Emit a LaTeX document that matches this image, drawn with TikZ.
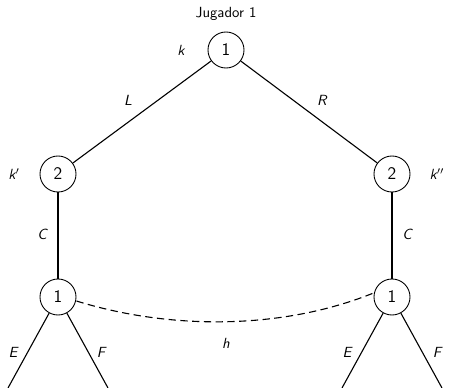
\documentclass[tikz,border=0pt]{standalone}
\usetikzlibrary{calc}
\begin{document}
\begin{tikzpicture}[x=0.68pt,y=-0.68pt,font=\sffamily,
  dec/.style={circle,draw,line width=0.6pt,inner sep=0pt,minimum size=24.5pt,font=\sffamily\large},
  edge/.style={line width=0.75pt},
  lab/.style={font=\sffamily\itshape}]
\useasboundingbox (0,0) rectangle (449,388);
\node[dec] (r) at (226,50) {1};
\node (jug) at (226,14) {Jugador 1};
\node[lab] (k) at (181,50) {k};
\node[dec] (a) at (58,174) {2};
\node[dec] (b) at (392,174) {2};
\node[lab] (ka) at (14,174) {k$'$};
\node[lab] (kb) at (437,174) {k$''$};
\node[dec] (c) at (58,297) {1};
\node[dec] (d) at (392,297) {1};
\coordinate (c1) at (8,388);
\coordinate (c2) at (108,388);
\coordinate (d1) at (342,388);
\coordinate (d2) at (442,388);
\draw[edge] (r) -- (a);
\draw[edge] (r) -- (b);
\draw[edge] (a) -- (c);
\draw[edge] (b) -- (d);
\node[lab] (lL) at (128,100) {L};
\node[lab] (lR) at (322,100) {R};
\node[lab] (lC1) at (42,234) {C};
\node[lab] (lC2) at (407,234) {C};
\draw[edge] (c) -- (c1);
\draw[edge] (c) -- (c2);
\draw[edge] (d) -- (d1);
\draw[edge] (d) -- (d2);
\node[lab] (e1) at (13,352) {E};
\node[lab] (f1) at (101,352) {F};
\node[lab] (e2) at (347,352) {E};
\node[lab] (f2) at (437,352) {F};
\draw[edge,dashed,dash pattern=on 5pt off 3pt] (c.east) ++(0,4) .. controls (170,330) and (282,330) .. ($(d.west)+(0,-4)$);
\node[lab] (h) at (226,343) {h};
\end{tikzpicture}
\end{document}
